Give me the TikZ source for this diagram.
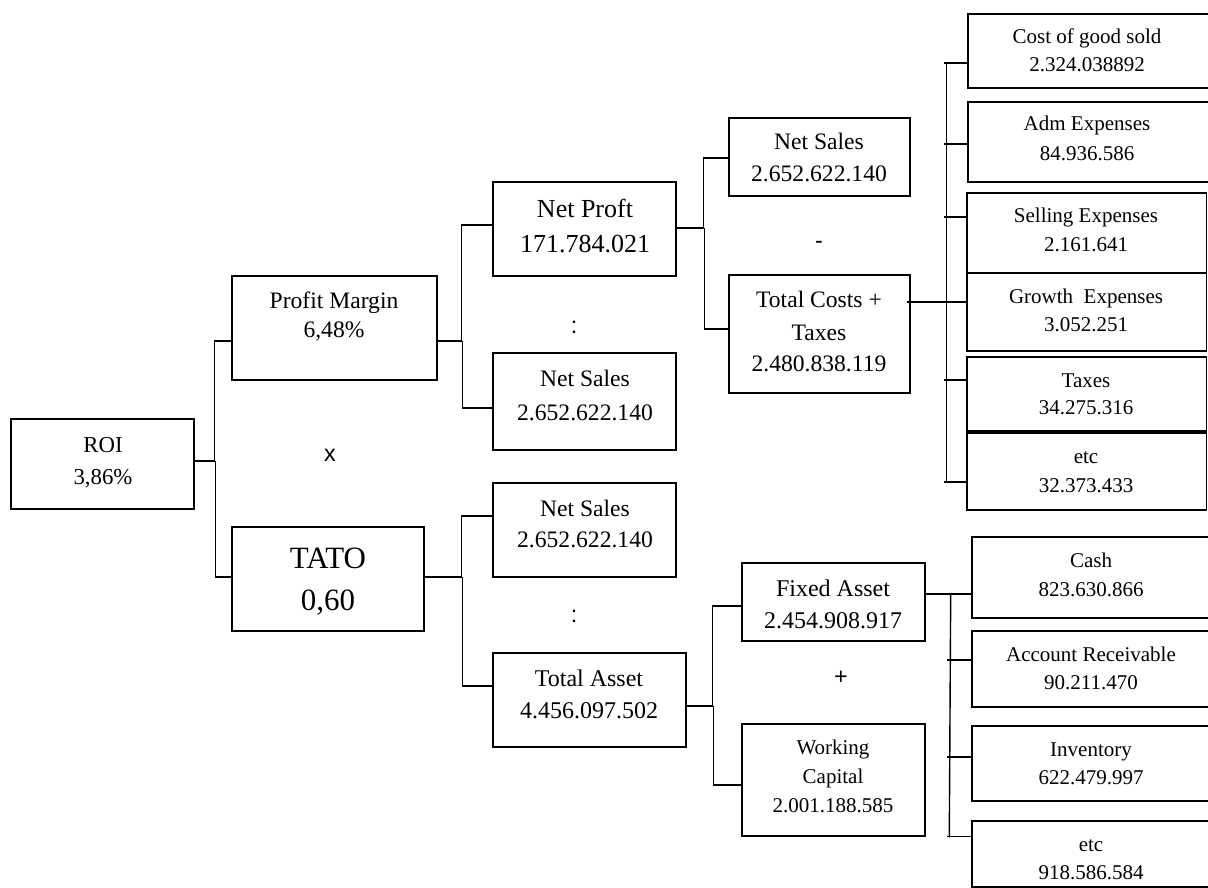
\documentclass[tikz,border=0pt]{standalone}
\usepackage{fontspec}
\setmainfont{Liberation Serif}
\newfontfamily\opfont{Liberation Sans}
\usetikzlibrary{fit,calc}
\newcommand\myfs[2]{\fontsize{#1}{#2}\selectfont}
\begin{document}
\begin{tikzpicture}[x=0.75pt,y=-0.75pt,
  bx/.style={draw,line width=1.05pt,inner sep=0pt},
  ln/.style={line width=1.05pt},
  tx/.style={anchor=base,align=center,inner sep=0pt},
  op/.style={font=\opfont\myfs{17.5}{20},inner sep=0pt}]
\useasboundingbox (0,0) rectangle (1208,888);

% boxes
\node[bx,fit={(11,419) (194,509)}] (roi) {};
\node[bx,fit={(232,276) (437,380)}] (pm) {};
\node[bx,fit={(232,527) (424,631)}] (tato) {};
\node[bx,fit={(493,182) (676,276)}] (np) {};
\node[bx,fit={(493,353) (676,450)}] (ns1) {};
\node[bx,fit={(493,483) (676,577)}] (ns2) {};
\node[bx,fit={(493,653) (686,747)}] (ta) {};
\node[bx,fit={(729,118) (910,196)}] (ns3) {};
\node[bx,fit={(729,275) (910,393)}] (tc) {};
\node[bx,fit={(742,563) (925,641)}] (fa) {};
\node[bx,fit={(742,724) (925,836)}] (wc) {};
\node[bx,fit={(968,14) (1210,88)}] (cogs) {};
\node[bx,fit={(968,102) (1210,182)}] (adm) {};
\node[bx,fit={(967,193) (1206.5,273)}] (sell) {};
\node[bx,fit={(967,273) (1206.5,351)}] (grow) {};
\node[bx,fit={(967,357) (1206.5,431)}] (tax) {};
\node[bx,fit={(967,433) (1206.5,510)}] (etca) {};
\node[bx,fit={(972,537) (1210,618)}] (cash) {};
\node[bx,fit={(972,631) (1210,707)}] (ar) {};
\node[bx,fit={(972,726) (1210,801)}] (inv) {};
\node[bx,fit={(972,821) (1210,887)}] (etcb) {};

% texts (anchor = baseline of the last line)
\node[tx,font=\myfs{17.1}{24}] (roi-t) at (103,484) {ROI\\3,86\%};
\node[tx,font=\myfs{17.7}{21.75}] (pm-t) at (334,338) {Profit Margin\\6,48\%};
\node[tx,font=\myfs{23.25}{31.5}] (tato-t) at (328,610) {TATO\\0,60};
\node[tx,font=\myfs{19.5}{27}] (np-t) at (585,253) {Net Proft\\171.784.021};
\node[tx,font=\myfs{17.7}{24.75}] (ns1-t) at (585,420) {Net Sales\\2.652.622.140};
\node[tx,font=\myfs{17.7}{23.25}] (ns2-t) at (585,547) {Net Sales\\2.652.622.140};
\node[tx,font=\myfs{18}{24}] (ta-t) at (589,718) {Total Asset\\4.456.097.502};
\node[tx,font=\myfs{17.7}{24}] (ns3-t) at (819,182) {Net Sales\\2.652.622.140};
\node[tx,font=\myfs{17.7}{24}] (tc-t) at (819,372) {Total Costs +\\Taxes\\2.480.838.119};
\node[tx,font=\myfs{18}{24}] (fa-t) at (833,628) {Fixed Asset\\2.454.908.917};
\node[tx,font=\myfs{15.75}{21.75}] (wc-t) at (833,812) {Working\\Capital\\2.001.188.585};
\node[tx,font=\myfs{15.75}{21}] (cogs-t) at (1087,72) {Cost of good sold\\2.324.038892};
\node[tx,font=\myfs{15.75}{22.5}] (adm-t) at (1087,161) {Adm Expenses\\84.936.586};
\node[tx,font=\myfs{15.75}{21.75}] (sell-t) at (1086,252) {Selling Expenses\\2.161.641};
\node[tx,font=\myfs{15.75}{21}] (grow-t) at (1086,332) {Growth\ \ Expenses\\3.052.251};
\node[tx,font=\myfs{15.75}{20.25}] (tax-t) at (1086,414) {Taxes\\34.275.316};
\node[tx,font=\myfs{15.75}{21.75}] (etca-t) at (1086,492) {etc\\32.373.433};
\node[tx,font=\myfs{15.75}{21.75}] (cash-t) at (1091,596) {Cash\\823.630.866};
\node[tx,font=\myfs{15.75}{21}] (ar-t) at (1091,689) {Account Receivable\\90.211.470};
\node[tx,font=\myfs{15.75}{21}] (inv-t) at (1091,784) {Inventory\\622.479.997};
\node[tx,font=\myfs{15.75}{21}] (etcb-t) at (1091,879) {etc\\918.586.584};

% operators
\node[op] (opx) at (330,455) {x};
\node[op] (opc1) at (574,327) {:};
\node[op] (opm) at (819,245) {-};
\node[op] (opc2) at (574,616) {:};
\node[op] (opp) at (841,678) {+};

% connectors
\draw[ln] ($(roi.east)+(0,-3)$) -| ($(pm.west)+(-17,13)$) -- ($(pm.west)+(0,13)$);
\draw[ln] ($(roi.east)+(21,-3)$) |- ($(tato.west)+(0,-2)$);

\draw[ln] ($(pm.east)+(0,13)$) -| ($(np.west)+(-31,-4)$) -- ($(np.west)+(0,-4)$);
\draw[ln] ($(pm.east)+(25,13)$) |- ($(ns1.west)+(0,6.5)$);

\draw[ln] ($(tato.east)+(0,-2)$) -| ($(ns2.west)+(-31,-14)$) -- ($(ns2.west)+(0,-14)$);
\draw[ln] ($(tato.east)+(38,-2)$) |- ($(ta.west)+(0,-14)$);

\draw[ln] ($(np.east)+(0,-1)$) -| ($(ns3.west)+(-25,1)$) -- ($(ns3.west)+(0,1)$);
\draw[ln] ($(np.east)+(28,-1)$) |- ($(tc.west)+(0,-5)$);

\draw[ln] ($(tc.east)+(-4,-32)$) -- ($(grow.west)+(0,-10)$);
\draw[ln] ($(cogs.west)+(-21,12)$) -- ($(etca.west)+(-20,10.5)$);
\draw[ln] ($(cogs.west)+(-23,12)$) -- ($(cogs.west)+(0,12)$);
\draw[ln] ($(adm.west)+(-23,2)$) -- ($(adm.west)+(0,2)$);
\draw[ln] ($(sell.west)+(-22,-16)$) -- ($(sell.west)+(0,-16)$);
\draw[ln] ($(tax.west)+(-22,-14)$) -- ($(tax.west)+(0,-14)$);
\draw[ln] ($(etca.west)+(-22,10.5)$) -- ($(etca.west)+(0,10.5)$);

\draw[ln] ($(ta.east)+(0,6)$) -| ($(fa.west)+(-29,4)$) -- ($(fa.west)+(0,4)$);
\draw[ln] ($(ta.east)+(27,6)$) |- ($(wc.west)+(0,5)$);

\draw[ln] ($(fa.east)+(0,-8)$) -- ($(cash.west)+(0,16.5)$);
\draw[ln] ($(fa.east)+(25,-8)$) -- ($(etcb.north west)+(-22,17)$);
\draw[ln] ($(ar.west)+(-24,-9)$) -- ($(ar.west)+(0,-9)$);
\draw[ln] ($(inv.west)+(-24,-6.5)$) -- ($(inv.west)+(0,-6.5)$);
\draw[ln] ($(etcb.north west)+(-24,16)$) -- ($(etcb.north west)+(0,16)$);
\end{tikzpicture}
\end{document}
